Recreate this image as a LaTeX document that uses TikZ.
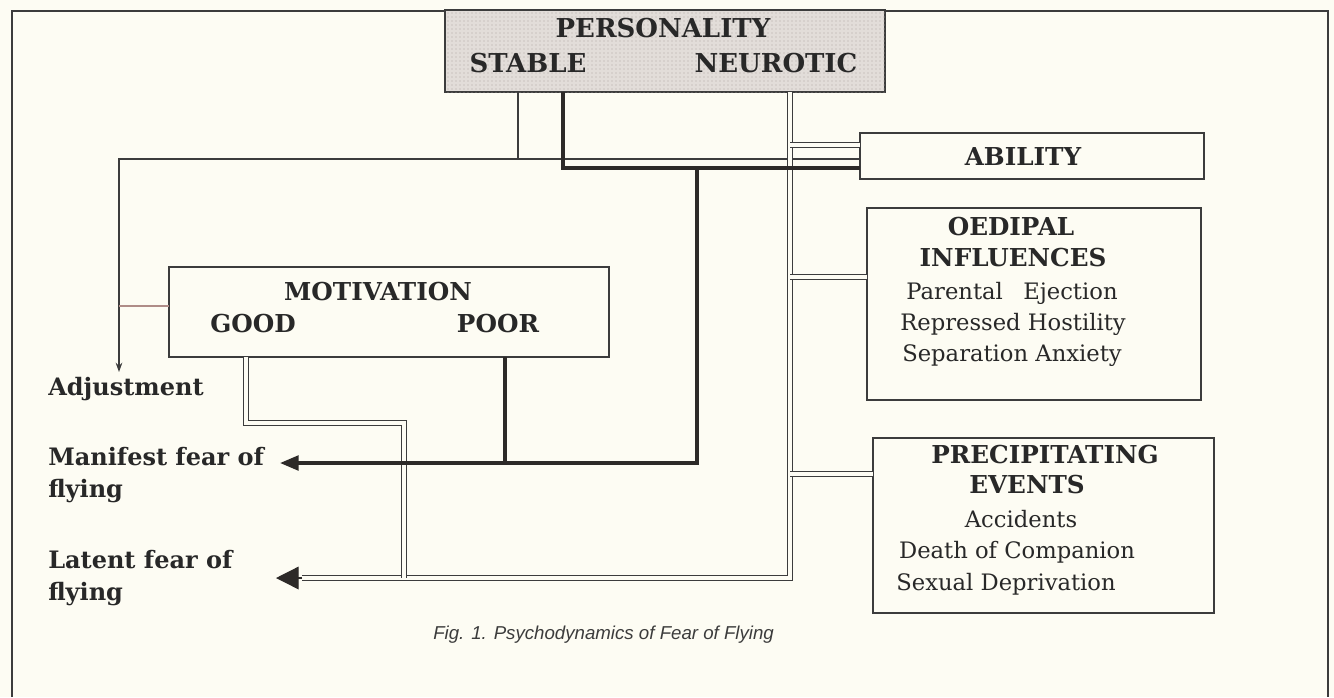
\documentclass[tikz,border=0pt]{standalone}
\usepackage{fontspec}
\setmainfont{DejaVu Serif}
\newfontfamily\capfont{Liberation Sans}
\usetikzlibrary{arrows.meta,patterns}
\definecolor{bg}{RGB}{253,252,243}
\definecolor{ink}{RGB}{60,60,60}
\definecolor{heavyink}{RGB}{45,42,40}
\definecolor{txt}{RGB}{40,40,40}
\definecolor{persfill}{RGB}{226,221,217}
\definecolor{persdot}{RGB}{175,168,165}
\definecolor{pinkish}{RGB}{175,140,135}
\begin{document}
\begin{tikzpicture}[x=0.75pt,y=-0.75pt,
  box/.style={draw=ink, line width=1.3pt, inner sep=0pt, outer sep=0pt, fill=bg},
  phd/.style={anchor=base, text=txt, font=\fontsize{19.5pt}{22pt}\selectfont\bfseries, inner sep=0pt},
  hd/.style={anchor=base, text=txt, font=\fontsize{18.5pt}{22pt}\selectfont\bfseries, inner sep=0pt},
  ct/.style={anchor=base, text=txt, font=\fontsize{17pt}{20pt}\selectfont, inner sep=0pt},
  lbl/.style={anchor=base west, text=txt, font=\fontsize{18pt}{22pt}\selectfont\bfseries, inner sep=0pt},
  thinln/.style={draw=ink, line width=1pt},
  heavy/.style={draw=heavyink, line width=2.6pt},
  dbl/.style={draw=ink, line width=0.8pt, double=bg, double distance=2.6pt},
]
\fill[bg] (0,0) rectangle (1334,697);
\useasboundingbox (0,0) rectangle (1334,697);
% outer frame
\draw[ink, line width=1.2pt] (12,697) -- (12,11) -- (1328,11) -- (1328,697);

% boxes
\node[box, fill=persfill, postaction={pattern=dots, pattern color=persdot}, minimum width=330pt, minimum height=61.5pt] (pers) at (665,51) {};
\node[phd] (persT) at (663,37) {PERSONALITY};
\node[phd] (stab) at (528,72) {STABLE};
\node[phd] (neur) at (776,72) {NEUROTIC};

\node[box, minimum width=258pt, minimum height=34.5pt] (abil) at (1032,156) {};
\node[hd] (abilT) at (1023,165) {ABILITY};

\node[box, minimum width=250.5pt, minimum height=144pt] (oed) at (1034,304) {};
\node[hd] (oedT1) at (1011,235) {OEDIPAL};
\node[hd] (oedT2) at (1013,266) {INFLUENCES};
\node[ct] (oedL1) at (1012,299) {Parental\hspace{0.9em}Ejection};
\node[ct] (oedL2) at (1013,330) {Repressed Hostility};
\node[ct] (oedL3) at (1012,361) {Separation Anxiety};

\node[box, minimum width=255.75pt, minimum height=131.25pt] (prec) at (1043.5,525.5) {};
\node[hd] (precT1) at (1045,463) {PRECIPITATING};
\node[hd] (precT2) at (1027,493) {EVENTS};
\node[ct] (precL1) at (1021,527) {Accidents};
\node[ct] (precL2) at (1017,558) {Death of Companion};
\node[ct] (precL3) at (1006,590) {Sexual Deprivation};

\node[box, minimum width=330pt, minimum height=67.5pt] (motiv) at (389,312) {};
\node[hd] (motivT) at (378,300) {MOTIVATION};
\node[hd] (good) at (253,332) {GOOD};
\node[hd] (poor) at (498,332) {POOR};

% outcome labels
\node[lbl] (adj) at (48,395) {Adjustment};
\node[lbl] (man1) at (48,465) {Manifest fear of};
\node[lbl] (man2) at (48,497) {flying};
\node[lbl] (lat1) at (48,568) {Latent fear of};
\node[lbl] (lat2) at (48,600) {flying};

% caption
\node[anchor=base west, inner sep=0pt, text=ink, font=\capfont\itshape\fontsize{14pt}{16pt}\selectfont] (cap) at (433,639) {Fig. 1. Psychodynamics of Fear of Flying};

% coordinates
\coordinate (j0) at (119,159);
\coordinate (j1) at (518,159);
\coordinate (tAdj) at (119,372);
\coordinate (m0) at (119,306);
\coordinate (s1) at (563,168);
\coordinate (s2) at (697,168);
\coordinate (s3) at (697,463);
\coordinate (tMan) at (280,463);
\coordinate (p1) at (505,463);
\coordinate (n0) at (790,92);
\coordinate (n1) at (790,578);
\coordinate (nb1) at (790,145);
\coordinate (nb2) at (790,277);
\coordinate (nb3) at (790,474);
\coordinate (tLat) at (302,578);
\coordinate (tLatTip) at (276,578);
\coordinate (g1) at (246,423);
\coordinate (g2) at (404,423);
\coordinate (g3) at (404,578);

% thin connectors
\draw[thinln] (pers.south -| j1) -- (j1);
\draw[thinln, -{Stealth[length=7pt,width=5pt]}] (abil.west |- j1) -- (j0) -- (tAdj);
\draw[draw=pinkish, line width=0.9pt] (m0) -- (m0 -| motiv.west);

% double connectors (neurotic)
\draw[dbl] (pers.south -| n0) -- (n1) -- (tLat);
\draw[dbl] (nb1) -- (nb1 -| abil.west);
\draw[dbl] (nb2) -- (nb2 -| oed.west);
\draw[dbl] (nb3) -- (nb3 -| prec.west);
% double connector (good motivation)
\draw[dbl] (motiv.south -| g1) -- (g1) -- (g2) -- (g3);
\draw[draw=heavyink, line width=1pt, -{Triangle[length=17pt,width=17pt]}] (tLat) -- (tLatTip);

% heavy connectors (stable / poor)
\draw[heavy] (pers.south -| s1) -- (s1) -- (s1 -| abil.west);
\draw[heavy, -{Triangle[length=14pt,width=11pt]}] (s2) -- (s3) -- (tMan);
\draw[heavy] (motiv.south -| p1) -- (p1);
\end{tikzpicture}
\end{document}
